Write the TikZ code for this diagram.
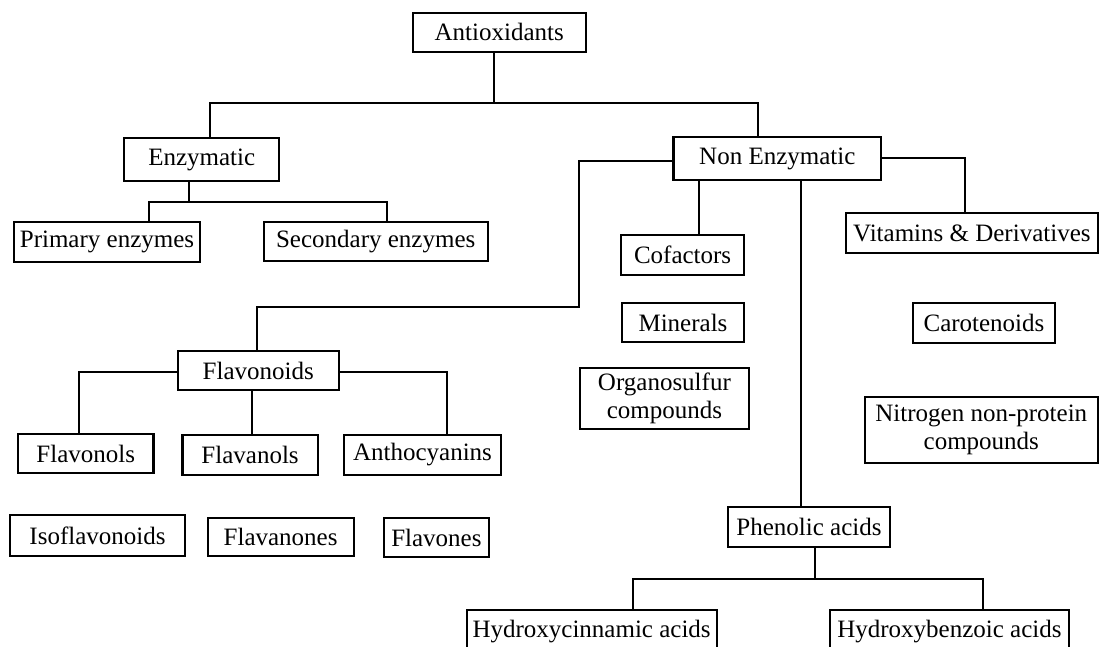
\documentclass[tikz,border=0pt]{standalone}
\usepackage{fontspec}
\setmainfont{Liberation Serif}
\begin{document}
\begin{tikzpicture}[x=0.5pt,y=-0.5pt,
  box/.style={draw=black,line width=1.1pt,rectangle,inner sep=0pt,align=center,
    font=\fontsize{12.5pt}{14pt}\selectfont},
  conn/.style={draw=black,line width=1pt}]
\useasboundingbox (0,0) rectangle (1099,647);
\clip (0,0) rectangle (1099,647);
\fill[white] (0,0) rectangle (1099,647);
% nodes
\node[box,minimum width=86.6pt,minimum height=19.7pt] (anti) at (499.2,32.4) {Antioxidants};
\node[box,minimum width=77.5pt,minimum height=21.5pt] (enz) at (201.7,159.5) {Enzymatic};
\node[box,minimum width=93pt,minimum height=20pt] (prim) at (107,242) {Primary enzymes};
\node[box,minimum width=111.9pt,minimum height=19.5pt] (sec) at (375.7,241.5) {Secondary enzymes};
\node[box,minimum width=103.8pt,minimum height=21.5pt] (non) at (777.3,158.5) {Non Enzymatic};
\node[box,minimum width=61.4pt,minimum height=20pt] (cof) at (682.6,255) {Cofactors};
\node[box,minimum width=126.2pt,minimum height=20pt] (vit) at (971.9,233) {Vitamins \& Derivatives};
\node[box,minimum width=61pt,minimum height=19.5pt] (mine) at (683,322.5) {Minerals};
\node[box,minimum width=84.6pt,minimum height=30.5pt] (org) at (664.4,398.5) {Organosulfur\\compounds};
\node[box,minimum width=71pt,minimum height=20pt] (car) at (984,323) {Carotenoids};
\node[box,minimum width=116.7pt,minimum height=33pt] (nit) at (981.3,430) {Nitrogen non-protein\\compounds};
\node[box,minimum width=81.2pt,minimum height=20pt] (phen) at (809,527) {Phenolic acids};
\node[box,minimum width=80.5pt,minimum height=19.5pt] (flav) at (258.3,370.5) {Flavonoids};
\node[box,minimum width=67.6pt,minimum height=19.5pt] (fnols) at (85.8,453.5) {Flavonols};
\node[box,minimum width=67.7pt,minimum height=20pt] (fanols) at (250.1,455) {Flavanols};
\node[box,minimum width=78.4pt,minimum height=20pt] (antho) at (422.5,455) {Anthocyanins};
\node[box,minimum width=87.7pt,minimum height=20.5pt] (iso) at (97.5,535.5) {Isoflavonoids};
\node[box,minimum width=73pt,minimum height=19pt] (fnones) at (280.6,537) {Flavanones};
\node[box,minimum width=52.3pt,minimum height=19.5pt] (fones) at (436.4,537.5) {Flavones};
\node[box,minimum width=125pt,minimum height=22pt] (hcin) at (591.6,632) {Hydroxycinnamic acids};
\node[box,minimum width=119.8pt,minimum height=22pt] (hben) at (949.4,632) {Hydroxybenzoic acids};
% junction coordinates
\coordinate (ja) at (493.9,103);
\coordinate (ea) at (210.4,103);
\coordinate (na) at (758.3,103);
\coordinate (eb) at (189.4,202);
\coordinate (pb) at (149.4,202);
\coordinate (sb) at (387.2,202);
\coordinate (fl1) at (578.8,161);
\coordinate (fl2) at (578.8,306.7);
\coordinate (fl3) at (257.4,306.7);
\coordinate (v1) at (965.3,158.3);
\coordinate (c1) at (698.7,0);
\coordinate (p1) at (801.1,0);
\coordinate (pj) at (814.8,579);
\coordinate (hc) at (633.1,579);
\coordinate (hb) at (983.2,579);
\coordinate (fa) at (78.9,372);
\coordinate (fb) at (447.2,372);
\coordinate (fc) at (251.8,0);
% connectors
\draw[conn] (anti.south -| ja) -- (ja);
\draw[conn] (enz.north -| ea) -- (ea) -- (na) -- (non.north -| na);
\draw[conn] (enz.south -| eb) -- (eb);
\draw[conn] (prim.north -| pb) -- (pb) -- (sb) -- (sec.north -| sb);
\draw[conn] (non.west |- fl1) -- (fl1) -- (fl2) -- (fl3) -- (flav.north -| fl3);
\draw[conn] (non.east |- v1) -- (v1) -- (vit.north -| v1);
\draw[conn] (non.south -| c1) -- (cof.north -| c1);
\draw[conn] (non.south -| p1) -- (phen.north -| p1);
\draw[conn] (phen.south -| pj) -- (pj);
\draw[conn] (hcin.north -| hc) -- (hc) -- (hb) -- (hben.north -| hb);
\draw[conn] (flav.west |- fa) -- (fa) -- (fnols.north -| fa);
\draw[conn] (flav.east |- fb) -- (fb) -- (antho.north -| fb);
\draw[conn] (flav.south -| fc) -- (fanols.north -| fc);
\end{tikzpicture}
\end{document}
